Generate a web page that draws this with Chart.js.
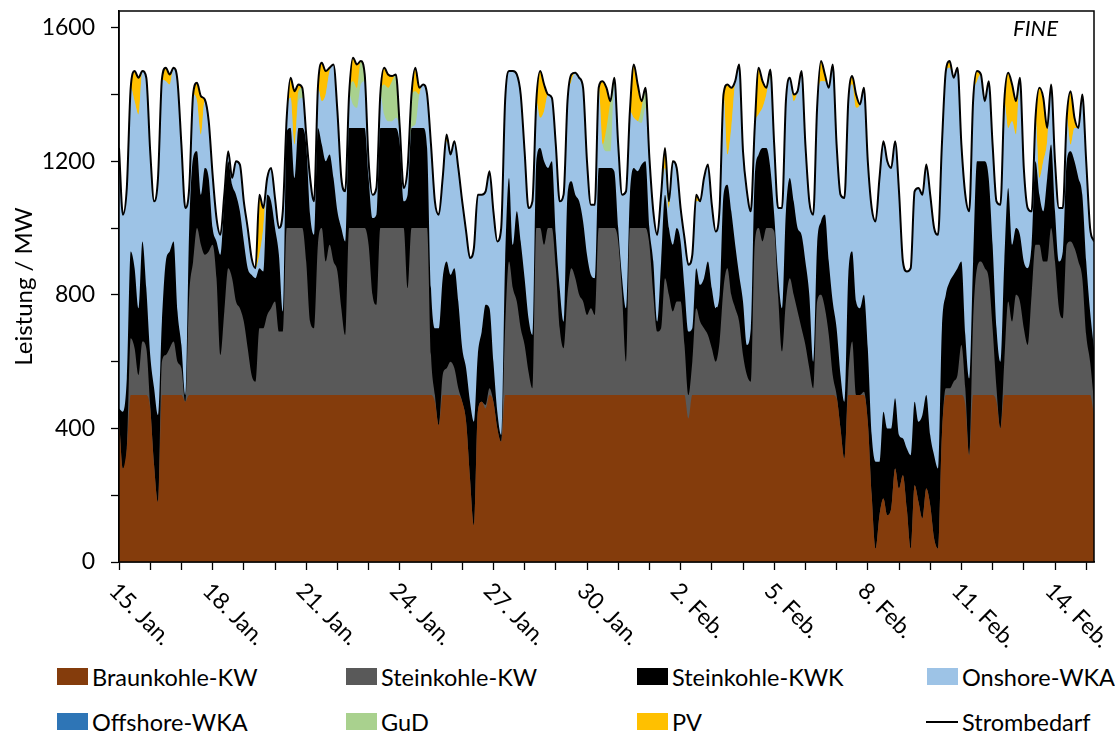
<!DOCTYPE html>
<html>
<head>
<meta charset="utf-8">
<script src="https://cdn.jsdelivr.net/npm/chart.js@4.4.1/dist/chart.umd.min.js"></script>
<style>
body{margin:0;background:#fff;font-family:Lato,sans-serif;}
#wrap{position:relative;width:1115px;height:735px;overflow:hidden;}
#c{position:absolute;left:0;top:0;}
.leg{position:absolute;font-size:23.5px;color:#000;line-height:24px;white-space:nowrap;}
.leg i{position:absolute;width:31px;height:17px;top:3px;left:-35px;}
.leg b{position:absolute;width:32px;height:2px;top:11px;left:-36px;background:#000;}
</style>
</head>
<body>
<div id="wrap">
<canvas id="c" width="1115" height="650"></canvas>
<div id="legend"></div>
</div>
<script>
// 3-hourly values (0h,3h,...,21h) per day, 15. Jan 0:00 to 15. Feb 6:00, in MW
// each array is the upper edge of a layer
var strombedarf=[
1240,1040,1120,1420,1470,1450,1470,1450,
1230,1080,1150,1445,1480,1460,1480,1440,
1250,1060,1120,1400,1435,1395,1385,1320,
1160,1030,980,1100,1230,1150,1200,1190,
1080,1000,910,880,1100,1060,1150,1180,
1090,1000,1050,1330,1450,1410,1430,1420,
1280,1150,1080,1420,1495,1470,1480,1490,
1350,1150,1110,1400,1510,1490,1500,1460,
1200,1100,1120,1400,1480,1460,1455,1460,
1300,1120,1180,1400,1480,1420,1430,1400,
1250,1080,1040,1150,1280,1220,1260,1180,
1080,990,910,940,1100,1100,1110,1170,
1050,960,1000,1380,1470,1470,1460,1400,
1230,1060,1080,1380,1470,1430,1400,1390,
1250,1080,1100,1380,1460,1465,1450,1420,
1200,1070,1070,1420,1440,1420,1380,1450,
1250,1100,1110,1350,1490,1430,1380,1420,
1210,1050,980,1100,1240,1080,1200,1180,
1060,970,890,920,1100,1080,1150,1190,
1070,990,1060,1400,1430,1420,1440,1490,
1230,1110,1050,1300,1480,1440,1420,1475,
1250,1060,1060,1380,1450,1400,1410,1470,
1250,1080,1040,1360,1500,1460,1420,1490,
1250,1100,1090,1380,1455,1400,1370,1420,
1200,1060,1020,1150,1260,1200,1180,1260,
1110,900,870,880,1110,1120,1100,1190,
1100,1000,980,1250,1470,1500,1450,1480,
1250,1100,1050,1380,1470,1460,1380,1440,
1250,1080,1070,1380,1465,1430,1380,1450,
1180,1060,1050,1330,1420,1390,1300,1430,
1200,1060,1060,1330,1410,1330,1300,1400,
1200,1000,960];

// top of GuD (PV lies between this and strombedarf)
var gudTop=[
1240,1040,1120,1420,1380,1340,1470,1450,
1230,1080,1150,1445,1440,1430,1480,1440,
1250,1060,1120,1400,1380,1280,1385,1320,
1160,1030,980,1100,1230,1150,1200,1190,
1080,1000,910,880,920,1000,1150,1180,
1090,1000,1050,1330,1390,1250,1410,1420,
1280,1150,1080,1420,1380,1400,1470,1490,
1350,1150,1110,1400,1440,1420,1500,1460,
1200,1100,1120,1400,1430,1420,1440,1460,
1300,1120,1180,1400,1410,1400,1430,1400,
1250,1080,1040,1150,1260,1220,1260,1180,
1080,990,910,940,1100,1100,1110,1170,
1050,960,1000,1380,1470,1470,1460,1400,
1230,1060,1080,1380,1330,1350,1400,1390,
1250,1080,1100,1380,1440,1465,1450,1420,
1200,1070,1070,1420,1250,1300,1380,1450,
1250,1100,1110,1350,1330,1320,1360,1420,
1210,1050,980,1100,1180,1060,1200,1180,
1060,970,890,920,1080,1080,1150,1190,
1070,990,1060,1400,1220,1300,1440,1490,
1230,1110,1050,1300,1340,1360,1400,1475,
1250,1060,1060,1380,1450,1380,1410,1470,
1250,1080,1040,1360,1440,1440,1420,1490,
1250,1100,1090,1380,1430,1360,1370,1420,
1200,1060,1020,1150,1260,1200,1180,1260,
1110,900,870,880,1110,1120,1100,1190,
1100,1000,980,1250,1470,1480,1450,1480,
1250,1100,1050,1380,1440,1460,1380,1440,
1250,1080,1070,1380,1300,1320,1280,1450,
1180,1060,1050,1330,1150,1200,1260,1430,
1200,1060,1060,1330,1250,1300,1300,1400,
1200,1000,960];

// top of Onshore-WKA
var onshoreTop=[
1240,1040,1120,1420,1380,1340,1470,1450,
1230,1080,1150,1445,1440,1430,1480,1440,
1250,1060,1120,1400,1380,1280,1385,1320,
1160,1030,980,1100,1230,1150,1200,1190,
1080,1000,910,880,920,1000,1150,1180,
1090,1000,1050,1330,1390,1250,1380,1390,
1280,1150,1080,1420,1380,1400,1470,1490,
1350,1150,1110,1400,1370,1360,1430,1440,
1200,1100,1120,1400,1340,1320,1320,1330,
1290,1120,1180,1300,1310,1400,1430,1400,
1250,1080,1040,1150,1260,1220,1260,1180,
1080,990,910,940,1100,1100,1110,1170,
1050,960,1000,1380,1470,1470,1460,1400,
1230,1060,1080,1380,1330,1350,1400,1390,
1250,1080,1100,1380,1440,1465,1450,1420,
1200,1070,1070,1420,1250,1230,1230,1430,
1250,1100,1110,1350,1330,1320,1315,1360,
1210,1050,980,1100,1180,1060,1200,1180,
1060,970,890,920,1080,1080,1150,1190,
1070,990,1060,1400,1220,1300,1440,1490,
1230,1110,1050,1300,1340,1360,1400,1450,
1250,1060,1060,1380,1450,1380,1410,1470,
1250,1080,1040,1360,1440,1440,1420,1490,
1250,1100,1090,1380,1430,1360,1370,1420,
1200,1060,1020,1150,1260,1200,1180,1260,
1110,900,870,880,1110,1120,1100,1190,
1100,1000,980,1250,1470,1480,1450,1480,
1250,1100,1050,1380,1440,1460,1380,1440,
1250,1080,1070,1380,1300,1320,1280,1450,
1180,1060,1050,1330,1150,1200,1260,1430,
1200,1060,1060,1330,1250,1300,1300,1400,
1200,1000,960];

// top of Steinkohle-KWK
var kwkTop=[
460,450,550,930,880,760,960,820,
620,520,440,720,900,930,960,750,
650,500,1000,1210,1230,1100,1180,1150,
1000,960,920,1080,1200,1130,1100,1050,
960,880,860,850,880,870,1100,1080,
1000,920,750,1290,1300,1150,1300,1300,
1250,1040,980,1300,1250,1200,1220,1150,
1050,1000,960,1300,1300,1300,1300,1300,
1150,1030,1040,1300,1300,1300,1300,1300,
1250,1080,1100,1300,1300,1300,1300,1240,
820,700,700,850,900,860,880,780,
640,580,480,420,620,690,770,760,
600,450,380,900,1150,950,1050,960,
850,730,680,1200,1240,1200,1180,1200,
980,820,720,1100,1140,1100,1080,1020,
920,860,850,1180,1180,1180,1180,1170,
1000,850,760,1100,1180,1170,1190,1200,
1000,900,720,900,1100,1000,950,1000,
960,820,690,700,880,830,850,900,
820,760,800,1100,1130,1050,950,860,
780,650,700,1150,1220,1240,1240,1180,
1040,860,760,1050,1150,1080,1000,980,
900,800,600,950,1020,1040,900,780,
700,560,480,860,930,780,760,800,
640,380,300,300,450,400,400,490,
380,370,340,320,480,420,440,500,
380,320,280,700,800,840,860,880,
900,680,550,900,1200,1200,1200,1150,
950,700,600,900,1120,950,1000,980,
900,880,950,1200,1100,1050,1150,1250,
1050,900,930,1200,1230,1200,1150,1100,
900,750,640];

// top of Steinkohle-KW
var steinTop=[
430,280,340,670,640,560,660,640,
470,290,180,600,620,640,660,600,
580,480,800,900,1000,950,920,930,
950,850,620,750,880,850,780,760,
720,640,560,540,700,700,740,760,
780,690,690,1000,1000,1000,1000,1000,
900,720,700,950,1000,900,950,900,
870,760,680,1000,1000,1000,1000,1000,
950,800,770,1000,1000,1000,1000,1000,
1000,1000,820,1000,1000,1000,1000,1000,
620,500,410,560,580,600,580,520,
480,420,250,110,450,480,470,520,
480,400,360,700,900,820,780,700,
650,570,520,1000,1000,950,1000,1000,
880,700,640,800,880,850,800,780,
740,760,740,1000,1000,1000,1000,1000,
960,800,600,1000,1000,1000,1000,1000,
950,800,690,700,850,800,750,780,
780,650,500,600,760,720,700,680,
640,600,660,820,880,800,760,720,
620,560,540,950,1000,960,1000,1000,
990,800,630,780,850,800,750,700,
650,580,520,780,800,760,680,560,
500,400,310,560,660,500,500,510,
420,200,40,140,190,140,160,280,
220,260,160,40,230,180,130,220,
170,70,40,380,520,520,540,560,
650,520,320,720,880,900,880,850,
700,520,400,600,780,720,800,780,
700,650,800,950,950,900,900,1000,
900,760,730,950,960,940,900,850,
680,600,480];

// Braunkohle-KW
var braunTop=[
430,280,340,500,500,500,500,500,
460,290,180,500,500,500,500,500,
500,480,500,500,500,500,500,500,
500,500,500,500,500,500,500,500,
500,500,500,500,500,500,500,500,
500,500,500,500,500,500,500,500,
500,500,500,500,500,500,500,500,
500,500,500,500,500,500,500,500,
500,500,500,500,500,500,500,500,
500,500,500,500,500,500,500,500,
500,480,410,500,500,500,500,500,
480,420,250,110,450,480,460,500,
480,400,360,500,500,500,500,500,
500,500,500,500,500,500,500,500,
500,500,500,500,500,500,500,500,
500,500,500,500,500,500,500,500,
500,500,500,500,500,500,500,500,
500,500,500,500,500,500,500,500,
500,500,430,500,500,500,500,500,
500,500,500,500,500,500,500,500,
500,500,500,500,500,500,500,500,
500,500,500,500,500,500,500,500,
500,500,500,500,500,500,500,500,
490,400,310,500,500,500,500,500,
420,200,40,140,190,140,160,280,
220,260,160,40,230,180,130,220,
170,70,40,380,500,500,500,500,
500,470,320,500,500,500,500,500,
500,480,400,500,500,500,500,500,
500,500,500,500,500,500,500,500,
500,500,500,500,500,500,500,500,
500,500,440];

var tickDays=[0,3,6,9,12,15,18,21,24,27,30];
var tickLabels=["15. Jan.","18. Jan.","21. Jan.","24. Jan.","27. Jan.","30. Jan.","2. Feb.","5. Feb.","8. Feb.","11. Feb.","14. Feb."];
var legendNames=["Braunkohle-KW","Steinkohle-KW","Steinkohle-KWK","Onshore-WKA","Offshore-WKA","GuD","PV","Strombedarf"];
var legendColors=["#843C0C","#595959","#000000","#9DC3E6","#2E75B6","#A9D18E","#FFC000",null];

function pts(arr){
    return arr.map(function(v,i){return {x:i/8,y:v}});
}
function area(label,arr,color){
    return {label:label,data:pts(arr),backgroundColor:color,borderWidth:0,
        pointRadius:0,fill:'origin',cubicInterpolationMode:'monotone'};
}

var frame={
    id:'frame',
    afterDraw:function(chart){
        var ctx=chart.ctx,a=chart.chartArea,xs=chart.scales.x;
        ctx.save();
        ctx.strokeStyle='#000';
        ctx.lineWidth=1.5;
        ctx.strokeRect(a.left,a.top,a.right-a.left,a.bottom-a.top);
        ctx.fillStyle='#000';
        ctx.font='23px Lato';
        ctx.textAlign='left';
        ctx.textBaseline='middle';
        for(var i=0;i<tickDays.length;i++){
            var px=xs.getPixelForValue(tickDays[i]);
            ctx.save();
            ctx.translate(px-6,a.bottom+25);
            ctx.rotate(Math.PI/4);
            ctx.fillText(tickLabels[i],0,0);
            ctx.restore();
        }
        ctx.font='italic 22px Lato';
        ctx.textAlign='right';
        ctx.fillText('FINE',1058,29);
        ctx.restore();
    }
};

var chart=new Chart(document.getElementById('c').getContext('2d'),{
    type:'line',
    data:{
        datasets:[
            {label:'Strombedarf',data:pts(strombedarf),borderColor:'#000',borderWidth:2,
                pointRadius:0,fill:false,cubicInterpolationMode:'monotone'},
            area('Braunkohle-KW',braunTop,'#843C0C'),
            area('Steinkohle-KW',steinTop,'#595959'),
            area('Steinkohle-KWK',kwkTop,'#000000'),
            area('Onshore-WKA',onshoreTop,'#9DC3E6'),
            area('GuD',gudTop,'#A9D18E'),
            area('PV',strombedarf,'#FFC000')
        ]
    },
    options:{
        responsive:false,
        animation:false,
        events:[],
        layout:{padding:{left:6,top:11,right:21,bottom:0}},
        plugins:{legend:{display:false},tooltip:{enabled:false}},
        scales:{
            x:{
                type:'linear',min:0,max:31.25,
                ticks:{display:false,stepSize:1,includeBounds:false},
                grid:{drawOnChartArea:false,tickLength:8,tickColor:'#000',tickWidth:1.3},
                border:{color:'#000',width:1.5},
                afterFit:function(s){s.height=88;s.paddingLeft=0;s.paddingRight=0;}
            },
            y:{
                min:0,max:1650,
                ticks:{stepSize:200,includeBounds:false,padding:16,color:'#000',
                    font:{family:'Lato',size:23},
                    callback:function(v){return v%400===0?v:'';}},
                grid:{drawOnChartArea:false,tickLength:8,tickColor:'#000',tickWidth:1.3},
                border:{color:'#000',width:1.5},
                title:{display:true,text:'Leistung / MW',color:'#000',
                    font:{family:'Lato',size:24},padding:{top:4,bottom:0}},
                afterFit:function(s){s.width=113;s.paddingTop=0;s.paddingBottom=0;}
            }
        }
    },
    plugins:[frame]
});

// legend, 4 columns x 2 rows
var cols=[92,381,672,962],rows=[665,710];
var lg=document.getElementById('legend');
for(var i=0;i<legendNames.length;i++){
    var d=document.createElement('div');
    d.className='leg';
    d.style.left=cols[i%4]+'px';
    d.style.top=rows[Math.floor(i/4)]+'px';
    var mark=document.createElement(legendColors[i]?'i':'b');
    if(legendColors[i]) mark.style.background=legendColors[i];
    d.appendChild(mark);
    d.appendChild(document.createTextNode(legendNames[i]));
    lg.appendChild(d);
}
</script>
</body>
</html>
